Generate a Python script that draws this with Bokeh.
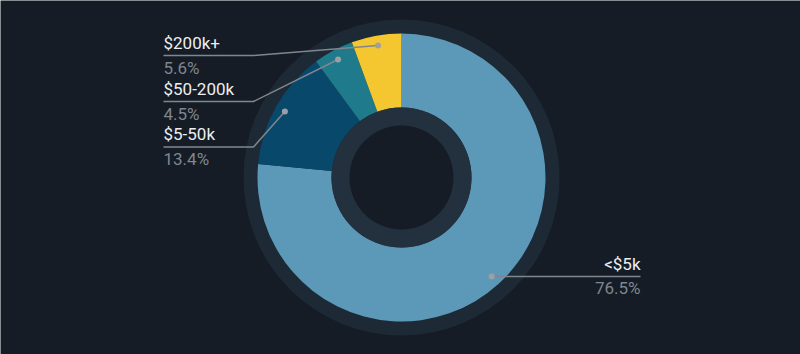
import math
from bokeh.plotting import figure
from bokeh.models import Range1d
from bokeh.core.properties import value
from bokeh.embed import file_html
from bokeh.resources import INLINE

# ---- data ----
categories = ["<$5k", "$5-50k", "$50-200k", "$200k+"]
shares = [76.5, 13.4, 4.5, 5.6]
pct_labels = ["76.5%", "13.4%", "4.5%", "5.6%"]
colors = ["#5c99b9", "#08496b", "#1f7a8b", "#f4c630"]

W, H = 800, 354
BG = "#151c26"
CX, CY = 401, H - 177
R_OUT, R_IN = 144, 70

p = figure(width=W, height=H, x_range=Range1d(0, W), y_range=Range1d(0, H),
           output_backend="svg", toolbar_location=None, min_border=0)
p.axis.visible = False
p.grid.visible = False
p.outline_line_color = None
p.background_fill_color = BG
p.border_fill_color = BG

# outer halo ring
p.circle(x=[CX], y=[CY], radius=158, radius_units="screen", fill_color="#1d2a36", line_color=None)

# slices: clockwise from 12 o'clock
total = sum(shares)
starts, ends, mids = [], [], []
cum = 0.0
for s in shares:
    a0 = cum / total * 2 * math.pi
    cum += s
    a1 = cum / total * 2 * math.pi
    starts.append(math.pi / 2 - a1)
    ends.append(math.pi / 2 - a0)
    mids.append(math.pi / 2 - (a0 + a1) / 2)

p.annular_wedge(x=CX, y=CY, inner_radius=R_IN, outer_radius=R_OUT,
                start_angle=starts, end_angle=ends, direction="anticlock",
                inner_radius_units="screen", outer_radius_units="screen",
                fill_color=colors, line_color=None)

# hole
p.circle(x=[CX], y=[CY], radius=R_IN, radius_units="screen", fill_color="#22313d", line_color=None)
p.circle(x=[CX], y=[CY], radius=52, radius_units="screen", fill_color=BG, line_color=None)

# label layout
R_DOT = 134
LINE_C = "#80868e"
font = value("Roboto")
FS = "17px"
left_order = [3, 2, 1]
base_y = [49, 95, 140.5]
tx, elbow_x = 163, 253
for k, i in enumerate(left_order):
    dx = CX + R_DOT * math.cos(mids[i])
    dy = CY + R_DOT * math.sin(mids[i])
    by = H - base_y[k]
    ly = by - 6
    p.line(x=[tx, elbow_x, dx], y=[ly, ly, dy], line_color=LINE_C, line_width=1.5)
    p.scatter(x=[dx], y=[dy], size=6, fill_color="#9aa0a6", line_color=None)
    p.text(x=[tx], y=[by + 7], text=[categories[i]], text_font=font, text_font_size=FS,
           text_color="#eceef0", text_baseline="alphabetic", text_align="left")
    p.text(x=[tx], y=[by - 25 + 7], text=[pct_labels[i]], text_font=font, text_font_size=FS,
           text_color="#7f868e", text_baseline="alphabetic", text_align="left")

i = 0
dx = CX + R_DOT * math.cos(mids[i])
dy = CY + R_DOT * math.sin(mids[i])
rx = 640
ly = dy
p.line(x=[dx, rx], y=[ly, ly], line_color=LINE_C, line_width=1.5)
p.scatter(x=[dx], y=[dy], size=6, fill_color="#9aa0a6", line_color=None)
p.text(x=[rx], y=[ly + 13], text=[categories[i]], text_font=font, text_font_size=FS,
       text_color="#eceef0", text_baseline="alphabetic", text_align="right")
p.text(x=[rx], y=[ly - 11], text=[pct_labels[i]], text_font=font, text_font_size=FS,
       text_color="#7f868e", text_baseline="alphabetic", text_align="right")

open("out.html", "w").write(file_html(p, INLINE))
